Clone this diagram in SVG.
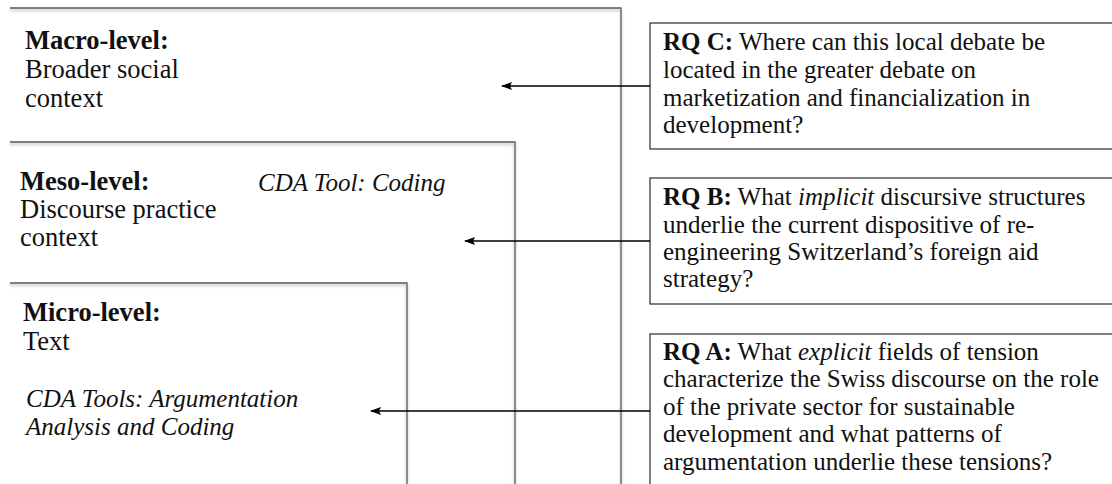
<svg xmlns="http://www.w3.org/2000/svg" width="1112" height="484" viewBox="0 0 1112 484">
  <style>
    .frame { fill: none; stroke: #5a5a5a; stroke-width: 1.3; filter: url(#soft); }
    .rq { fill: #ffffff; stroke: #2a2a2a; stroke-width: 1.2; }
    .t { font-family: "Liberation Serif", "Times New Roman", serif; font-size: 25px; fill: #111111; }
    .lv { font-size: 26.5px; }
    .b { font-weight: bold; }
    .i { font-style: italic; }
    .link { stroke: #000000; stroke-width: 1.6; fill: none; marker-end: url(#head); }
  </style>
  <defs>
    <filter id="soft" x="-5%" y="-5%" width="110%" height="110%">
      <feDropShadow dx="0" dy="2" stdDeviation="1.5" flood-color="#000000" flood-opacity="0.3"/>
    </filter>
    <marker id="head" viewBox="0 0 11 8" refX="10" refY="4" markerWidth="11" markerHeight="8" markerUnits="userSpaceOnUse" orient="auto">
      <path d="M0,0 L11,4 L0,8 L2,4 z" fill="#000000"/>
    </marker>
  </defs>

  <rect width="1112" height="484" fill="#ffffff"/>

  <!-- nested analysis levels: open on the left, running past the bottom edge -->
  <g id="macro">
    <path class="frame" d="M10,8 H621 V500"/>
    <text class="t lv b" x="25" y="49">Macro-level:</text>
    <text class="t lv" x="25" y="78">Broader social</text>
    <text class="t lv" x="25" y="107">context</text>
  </g>

  <g id="meso">
    <path class="frame" d="M10,142 H515 V500"/>
    <text class="t lv b" x="20" y="190">Meso-level:</text>
    <text class="t lv" x="20" y="218">Discourse practice</text>
    <text class="t lv" x="20" y="246">context</text>
    <text class="t i" x="258" y="191">CDA Tool: Coding</text>
  </g>

  <g id="micro">
    <path class="frame" d="M10,283 H407 V500"/>
    <text class="t lv b" x="23" y="321">Micro-level:</text>
    <text class="t lv" x="23" y="350">Text</text>
    <text class="t i" x="26" y="407">CDA Tools: Argumentation</text>
    <text class="t i" x="26" y="435">Analysis and Coding</text>
  </g>

  <!-- research questions -->
  <g id="rq-c">
    <rect class="rq" x="650" y="23" width="480" height="126"/>
    <text class="t" x="663" y="50"><tspan class="b">RQ C:</tspan> Where can this local debate be</text>
    <text class="t" x="663" y="78">located in the greater debate on</text>
    <text class="t" x="663" y="106">marketization and financialization in</text>
    <text class="t" x="663" y="133">development?</text>
  </g>

  <g id="rq-b">
    <rect class="rq" x="650" y="178" width="480" height="126"/>
    <text class="t" x="663" y="205"><tspan class="b">RQ B:</tspan> What <tspan class="i">implicit</tspan> discursive structures</text>
    <text class="t" x="663" y="233">underlie the current dispositive of re-</text>
    <text class="t" x="663" y="260">engineering Switzerland’s foreign aid</text>
    <text class="t" x="663" y="287">strategy?</text>
  </g>

  <g id="rq-a">
    <rect class="rq" x="650" y="334" width="480" height="200"/>
    <text class="t" x="663" y="360"><tspan class="b">RQ A:</tspan> What <tspan class="i">explicit</tspan> fields of tension</text>
    <text class="t" x="663" y="387">characterize the Swiss discourse on the role</text>
    <text class="t" x="663" y="415">of the private sector for sustainable</text>
    <text class="t" x="663" y="442">development and what patterns of</text>
    <text class="t" x="663" y="470">argumentation underlie these tensions?</text>
  </g>

  <!-- connectors: each question points into its level -->
  <g id="connectors">
    <line class="link" x1="650" y1="86" x2="502" y2="86"/>
    <line class="link" x1="650" y1="241" x2="465" y2="241"/>
    <line class="link" x1="650" y1="411" x2="371" y2="411"/>
  </g>
</svg>
